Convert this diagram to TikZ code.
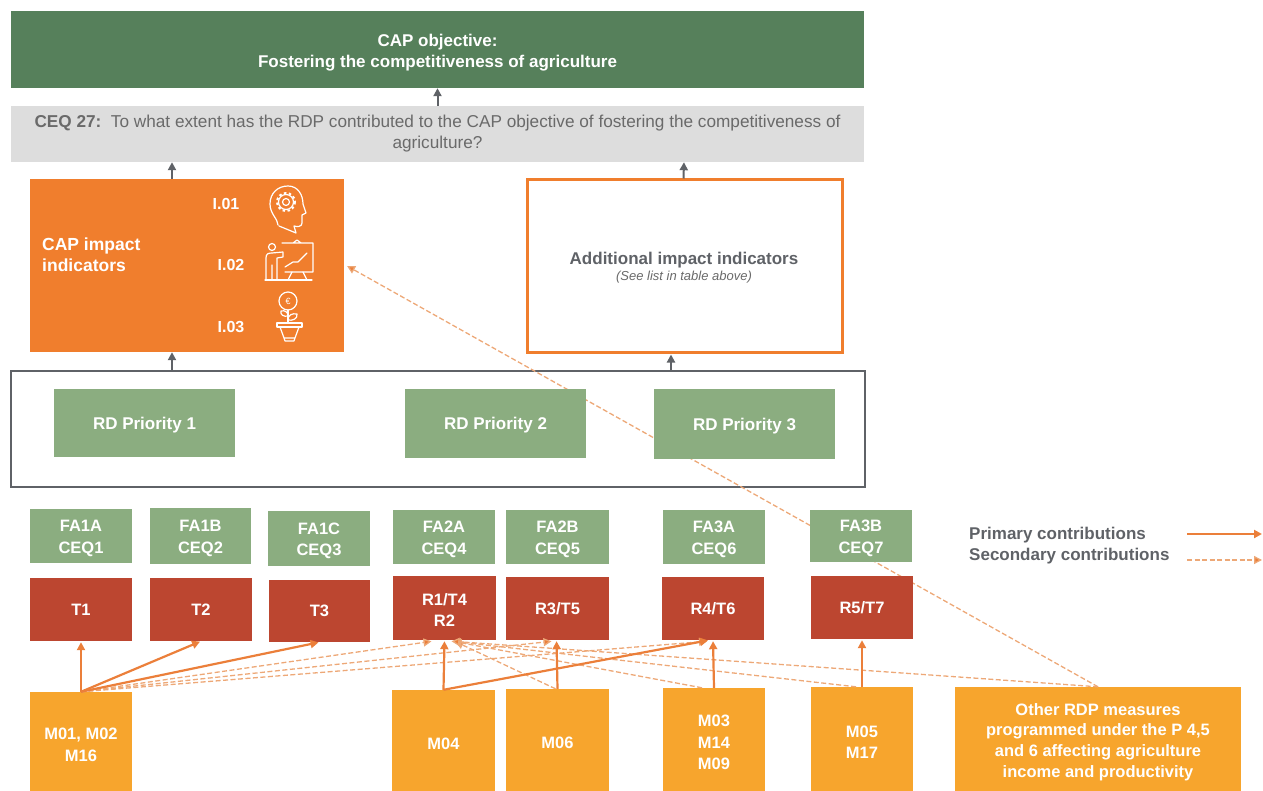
\documentclass[tikz,border=0pt]{standalone}
\usepackage{fontspec}
\setmainfont{Liberation Sans}
\usetikzlibrary{arrows.meta}
\definecolor{dkgreen}{HTML}{56805B}
\definecolor{ltgreen}{HTML}{8BAD80}
\definecolor{brick}{HTML}{BC4630}
\definecolor{amber}{HTML}{F7A52D}
\definecolor{orng}{HTML}{F07E2D}
\definecolor{arrowor}{HTML}{EB7F3A}
\definecolor{dashor}{HTML}{EDA877}
\definecolor{greybar}{HTML}{DDDDDD}
\definecolor{greytxt}{HTML}{6A6A6A}
\definecolor{dkgrey}{HTML}{5F6267}
\tikzset{
  x=1pt,y=-1pt,
  lbl/.style={text=white,font=\bfseries\fontsize{16.5}{21.5}\selectfont,align=center},
  topbox/.style={fill=dkgreen,lbl,font=\bfseries\fontsize{17}{21}\selectfont},
  ceqbox/.style={fill=greybar,text=greytxt,align=center,font=\fontsize{17.2}{21}\selectfont},
  capbox/.style={fill=orng},
  addbox/.style={draw=orng,line width=3pt,fill=white},
  framebox/.style={draw=dkgrey,line width=1.8pt,fill=white},
  prio/.style={fill=ltgreen,lbl,font=\bfseries\fontsize{17}{20}\selectfont},
  fabox/.style={fill=ltgreen,lbl},
  resbox/.style={fill=brick,lbl},
  mbox/.style={fill=amber,lbl},
  otherbox/.style={fill=amber,lbl,font=\bfseries\fontsize{16.5}{20.7}\selectfont},
  whitetxt/.style={text=white,font=\bfseries\fontsize{16}{20}\selectfont,align=left,inner sep=0pt},
  legendtxt/.style={text=dkgrey,font=\bfseries\fontsize{17}{20}\selectfont,anchor=west,inner sep=0pt},
  uparrow/.style={draw=dkgrey,line width=2pt,-{Triangle[length=8pt,width=8pt]}},
  primary/.style={draw=arrowor,line width=2.2pt,-{Triangle[length=8pt,width=8pt]},shorten >=1pt},
  secondary/.style={draw=dashor,line width=1.3pt,dash pattern=on 5pt off 2.5pt,-{Triangle[length=8pt,width=8pt,fill=arrowor]},shorten >=1pt},
  icon/.style={draw=white,line width=1.2pt,line cap=round,line join=round}
}
\newcommand{\bx}[7]{\node[#6,inner sep=0pt,minimum width=#4pt-#2pt,minimum height=#5pt-#3pt] (#1) at ({(#2+#4)/2},{(#3+#5)/2}) {#7};}
\newcommand{\dn}{\rule{0pt}{18pt}}
\newcommand{\dns}{\rule{0pt}{16pt}}
\begin{document}
\begin{tikzpicture}
\useasboundingbox (0,0) rectangle (1263,791);
\bx{cap}{11}{11}{864}{88}{topbox}{\rule{0pt}{19pt}CAP objective:\\Fostering the competitiveness of agriculture}
\bx{ceq}{11}{106}{864}{162}{ceqbox}{\textbf{CEQ 27:}\ \ To what extent has the RDP contributed to the CAP objective of fostering the competitiveness of\\agriculture?}
\bx{impact}{30}{179}{344}{352}{capbox}{}
\bx{additional}{527}{180}{842}{353}{addbox}{}
\bx{frame}{11}{371}{865}{487}{framebox}{}
\bx{other}{955}{687}{1241}{791}{otherbox}{\dn Other RDP measures\\programmed under the P 4,5\\and 6 affecting agriculture\\income and productivity}
% long secondary arrow passes behind the green and red boxes
\draw[secondary] (other.north) -- ([xshift=2pt]impact.east);
\node[whitetxt,anchor=west,font=\bfseries\fontsize{17.5}{21}\selectfont] (impactlbl) at (42,255) {CAP impact\\indicators};
\node[whitetxt] (i01) at (226,204) {I.01};
\node[whitetxt] (i02) at (231,265) {I.02};
\node[whitetxt] (i03) at (231,327) {I.03};
\node[text=dkgrey,font=\bfseries\fontsize{17}{20}\selectfont,inner sep=0pt] (addlbl) at (684,260.5) {Additional impact indicators};
\node[text=greytxt,font=\itshape\fontsize{13}{14}\selectfont,inner sep=0pt] (addsub) at (684,277.5) {(See list in table above)};
% icons
\draw[icon] (278,225) .. controls (278,219) and (270,214) .. (270,204) .. controls (270,193) and (278,186) .. (288,186) .. controls (298,186) and (303,195) .. (303,204) -- (306,213) -- (302,215) -- (302,223) .. controls (302,227) and (297,227) .. (294,226) -- (296,233) -- (279,226);
\draw[icon,line width=2pt,line cap=butt,dash pattern=on 2.5pt off 2.5pt] (286,202) circle (9);
\draw[icon] (286,202) circle (7.5);
\draw[icon] (286,202) circle (3.5);
\draw[icon] (282,243) -- (313,243) -- (313,272) -- (285,272) (293,243) -- (297,240) -- (301,243);
\draw[icon] (265,280) -- (312,280);
\draw[icon] (292,272) -- (288,280) (303,272) -- (307,280);
\draw[icon] (272,247) circle (3.5);
\draw[icon] (266,279) -- (266,258) .. controls (266,254) and (268,253) .. (272,253) -- (283,252) -- (283,257) -- (277,258) -- (277,279) (272,265) -- (272,279);
\draw[icon] (285,267) -- (293,262) -- (298,262) -- (307,253);
\draw[icon] (288,301) circle (9);
\node[text=white,font=\fontsize{9}{9}\selectfont,inner sep=0pt] (euro) at (288,301) {€};
\draw[icon] (288,310) -- (288,322);
\draw[icon] (288,316) .. controls (284,317) and (280,315) .. (281,311) .. controls (285,310) and (288,312) .. (288,316);
\draw[icon] (288,320) .. controls (292,321) and (298,319) .. (297,314) .. controls (292,313) and (288,315) .. (288,320);
\draw[icon] (277,323) -- (302,323) -- (302,327) -- (277,327) -- cycle;
\draw[icon] (280,327) -- (284,338) -- (295,338) -- (299,327) (284,338) -- (285,341) -- (294,341) -- (295,338);
\bx{p1}{54}{389}{235}{457}{prio}{\dns RD Priority 1}
\bx{p2}{405}{389}{586}{458}{prio}{\dns RD Priority 2}
\bx{p3}{654}{389}{835}{459}{prio}{\dns RD Priority 3}
\bx{fa1a}{30}{509}{132}{563}{fabox}{\dns FA1A\\CEQ1}
\bx{fa1b}{150}{508}{251}{564}{fabox}{\dns FA1B\\CEQ2}
\bx{fa1c}{268}{511}{370}{566}{fabox}{\dns FA1C\\CEQ3}
\bx{fa2a}{393}{510}{495}{564}{fabox}{\dns FA2A\\CEQ4}
\bx{fa2b}{506}{510}{609}{564}{fabox}{\dns FA2B\\CEQ5}
\bx{fa3a}{663}{510}{765}{564}{fabox}{\dns FA3A\\CEQ6}
\bx{fa3b}{810}{510}{912}{562}{fabox}{\dns FA3B\\CEQ7}
\bx{t1}{30}{578}{132}{641}{resbox}{T1}
\bx{t2}{150}{578}{252}{641}{resbox}{T2}
\bx{t3}{269}{580}{370}{642}{resbox}{T3}
\bx{r1}{393}{576}{496}{640}{resbox}{\dns R1/T4\\R2}
\bx{r3}{506}{577}{609}{640}{resbox}{R3/T5}
\bx{r4}{662}{577}{764}{640}{resbox}{R4/T6}
\bx{r5}{811}{576}{913}{639}{resbox}{R5/T7}
\bx{m01}{30}{692}{132}{791}{mbox}{\dn M01, M02\\M16}
\bx{m04}{392}{690}{495}{791}{mbox}{\dn M04}
\bx{m06}{506}{689}{609}{791}{mbox}{\dn M06}
\bx{m03}{663}{688}{765}{791}{mbox}{\dn M03\\M14\\M09}
\bx{m05}{811}{687}{913}{791}{mbox}{\dn M05\\M17}
% grey arrows
\draw[uparrow] (ceq.north) -- (cap.south);
\draw[uparrow] ([xshift=-15pt]impact.north) -- ([xshift=-265.5pt]ceq.south);
\draw[uparrow] ([xshift=-1pt]additional.north) -- ([xshift=246.5pt]ceq.south);
\draw[uparrow] ([xshift=-266pt]frame.north) -- ([xshift=-15pt]impact.south);
\draw[uparrow] ([xshift=233pt]frame.north) -- ([xshift=-13.5pt]additional.south);
% secondary
\draw[secondary] (m01.north) -- ([xshift=-12pt,yshift=-1pt]r1.south);
\draw[secondary] (m01.north) -- ([xshift=-5pt,yshift=-1pt]r3.south);
\draw[secondary] (m01.north) -- ([xshift=-5pt,yshift=-1pt]r4.south);
\draw[secondary] ([xshift=-2pt]m06.north) -- ([xshift=10pt,yshift=-1pt]r1.south);
\draw[secondary] ([xshift=-12pt]m03.north) -- ([xshift=8pt,yshift=-1pt]r1.south);
\draw[secondary] ([xshift=-6pt]m05.north) -- ([xshift=7pt,yshift=-1pt]r1.south);
\draw[secondary] (other.north) -- ([xshift=6pt,yshift=-1pt]r1.south);
% primary
\draw[primary] (m01.north) -- (t1.south);
\draw[primary] (m01.north) -- (t2.south);
\draw[primary] (m01.north) -- (t3.south);
\draw[primary] (m04.north) -- (r1.south);
\draw[primary] (m04.north) -- ([xshift=-4pt]r4.south);
\draw[primary] (m06.north) -- ([xshift=-1pt]r3.south);
\draw[primary] (m03.north) -- (r4.south);
\draw[primary] (m05.north) -- (r5.south);
% legend
\node[legendtxt] (lgp) at (969,535) {Primary contributions};
\node[legendtxt] (lgs) at (969,556) {Secondary contributions};
\coordinate (lpa) at (1187,534);
\coordinate (lpb) at (1263,534);
\coordinate (lsa) at (1187,560);
\coordinate (lsb) at (1263,560);
\draw[primary] (lpa) -- (lpb);
\draw[secondary] (lsa) -- (lsb);
\end{tikzpicture}
\end{document}
